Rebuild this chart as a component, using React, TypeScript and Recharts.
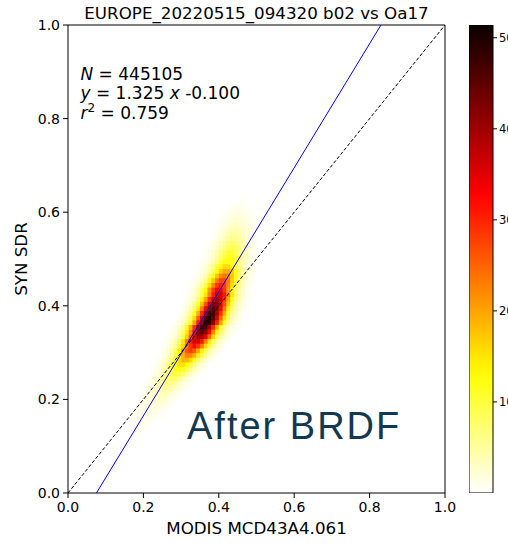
import React from "react";
import {
  ScatterChart,
  Scatter,
  XAxis,
  YAxis,
  ReferenceLine,
  Label,
  BarChart,
  Bar,
} from "recharts";

// ---- data ----
const TITLE = "EUROPE_20220515_094320 b02 vs Oa17";
const X_LABEL = "MODIS MCD43A4.061";
const Y_LABEL = "SYN SDR";
const NOTE = "After BRDF";

const AXIS_TICKS = [0, 0.2, 0.4, 0.6, 0.8, 1.0];
const CBAR_TICKS = [10, 20, 30, 40, 50];
const VMAX = 51.4;

const N_POINTS = 445105;
const FIT_SLOPE = 1.325;
const FIT_INTERCEPT = -0.1;
const R2 = 0.759;

const BIN = 0.01;

// 2D histogram rows: y = lower edge of the row, x = lower edge of first cell, v = counts
const HIST_ROWS: { y: number; x: number; v: number[] }[] = [
  { y: 0.13, x: 0.17, v: [0.4, 0.5, 0.5, 0.4] },
  { y: 0.14, x: 0.17, v: [0.5, 0.6, 0.7, 0.6, 0.5] },
  { y: 0.15, x: 0.17, v: [0.5, 0.7, 0.9, 0.9, 0.7, 0.5] },
  { y: 0.16, x: 0.17, v: [0.5, 0.7, 1.0, 1.2, 1.2, 1.0, 0.7, 0.5] },
  { y: 0.17, x: 0.17, v: [0.5, 0.8, 1.1, 1.4, 1.5, 1.4, 1.1, 0.8, 0.5] },
  { y: 0.18, x: 0.18, v: [0.6, 1.0, 1.4, 1.8, 2.0, 1.8, 1.4, 1.0, 0.6] },
  { y: 0.19, x: 0.19, v: [0.8, 1.3, 1.9, 2.4, 2.6, 2.4, 1.9, 1.3, 0.8] },
  { y: 0.2, x: 0.19, v: [0.7, 1.3, 2.0, 2.7, 3.1, 3.1, 2.7, 2.0, 1.3, 0.7] },
  { y: 0.21, x: 0.2, v: [0.9, 1.6, 2.4, 3.3, 3.9, 3.9, 3.3, 2.4, 1.6, 0.9] },
  { y: 0.22, x: 0.2, v: [0.6, 1.2, 2.0, 3.1, 4.2, 4.9, 4.9, 4.2, 3.1, 2.0, 1.2, 0.6] },
  { y: 0.23, x: 0.2, v: [0.6, 1.1, 1.9, 3.1, 4.5, 5.7, 6.2, 5.7, 4.5, 3.1, 1.9, 1.1, 0.6] },
  { y: 0.24, x: 0.21, v: [0.7, 1.4, 2.5, 4.0, 5.8, 7.4, 8.0, 7.4, 5.8, 4.0, 2.5, 1.4, 0.7] },
  { y: 0.25, x: 0.22, v: [0.9, 1.7, 3.1, 5.0, 7.2, 9.2, 10, 9.2, 7.2, 5.0, 3.1, 1.7, 0.9] },
  { y: 0.26, x: 0.22, v: [0.6, 1.1, 2.1, 3.9, 6.3, 9.0, 11.5, 12.5, 11.5, 9.0, 6.3, 3.9, 2.1, 1.1, 0.6] },
  { y: 0.27, x: 0.23, v: [1.0, 1.9, 3.6, 6.2, 9.5, 12.9, 15.2, 15.2, 12.9, 9.5, 6.2, 3.6, 1.9, 1.0] },
  { y: 0.28, x: 0.23, v: [0.6, 1.2, 2.3, 4.4, 7.6, 11.6, 15.8, 18.6, 18.6, 15.8, 11.6, 7.6, 4.4, 2.3, 1.2, 0.6] },
  { y: 0.29, x: 0.24, v: [0.7, 1.5, 2.8, 5.3, 9.2, 14, 19, 22.5, 22.5, 19, 14, 9.2, 5.3, 2.8, 1.5, 0.7] },
  { y: 0.3, x: 0.24, v: [0.6, 1.3, 2.5, 4.8, 8.7, 14, 20, 26, 28, 26, 20, 14, 8.7, 4.8, 2.5, 1.3, 0.6] },
  { y: 0.31, x: 0.25, v: [0.6, 1.4, 2.9, 5.4, 9.9, 16, 23, 29, 32, 29, 23, 16, 9.9, 5.4, 2.9, 1.4, 0.6] },
  { y: 0.32, x: 0.25, v: [0.5, 1.1, 2.4, 4.4, 8.5, 14.8, 22.6, 30.7, 36.3, 36.3, 30.7, 22.6, 14.8, 8.5, 4.4, 2.4, 1.1, 0.5] },
  { y: 0.33, x: 0.26, v: [0.5, 1.2, 2.7, 4.9, 9.4, 16.4, 25, 34, 40, 40, 34, 25, 16.4, 9.4, 4.9, 2.7, 1.2, 0.5] },
  { y: 0.34, x: 0.27, v: [0.9, 2.0, 4.1, 7.7, 14, 22.5, 32.4, 41.4, 45, 41.4, 32.4, 22.5, 14, 7.7, 4.1, 2.0, 0.9] },
  { y: 0.35, x: 0.27, v: [0.6, 1.4, 3.1, 5.8, 11, 19.2, 29.3, 39.8, 47, 47, 39.8, 29.3, 19.2, 11, 5.8, 3.1, 1.4, 0.6] },
  { y: 0.36, x: 0.28, v: [0.7, 1.5, 3.3, 6.0, 11.5, 20, 30.5, 41.5, 49, 49, 41.5, 30.5, 20, 11.5, 6.0, 3.3, 1.5, 0.7] },
  { y: 0.37, x: 0.29, v: [1.0, 2.3, 4.5, 8.5, 15.5, 25, 36, 46, 50, 46, 36, 25, 15.5, 8.5, 4.5, 2.3, 1.0] },
  { y: 0.38, x: 0.29, v: [0.6, 1.4, 3.1, 5.8, 11, 19.2, 29.3, 39.8, 47, 47, 39.8, 29.3, 19.2, 11, 5.8, 3.1, 1.4, 0.6] },
  { y: 0.39, x: 0.3, v: [0.9, 2.1, 4.1, 7.8, 14.3, 23, 33, 42, 46, 42, 33, 23, 14.3, 7.8, 4.1, 2.1, 0.9] },
  { y: 0.4, x: 0.3, v: [0.6, 1.3, 2.8, 5.2, 9.9, 17.2, 26.2, 35.7, 42, 42, 35.7, 26.2, 17.2, 9.9, 5.2, 2.8, 1.3, 0.6] },
  { y: 0.41, x: 0.31, v: [0.8, 1.8, 3.6, 6.8, 12.4, 20, 28.8, 36.8, 40, 36.8, 28.8, 20, 12.4, 6.8, 3.6, 1.8, 0.8] },
  { y: 0.42, x: 0.31, v: [0.5, 1.1, 2.4, 4.4, 8.5, 14.8, 22.6, 30.7, 36.3, 36.3, 30.7, 22.6, 14.8, 8.5, 4.4, 2.4, 1.1, 0.5] },
  { y: 0.43, x: 0.32, v: [1.0, 2.2, 4.1, 7.8, 13.6, 20.7, 28.2, 33.3, 33.3, 28.2, 20.7, 13.6, 7.8, 4.1, 2.2, 1.0] },
  { y: 0.44, x: 0.32, v: [0.6, 1.4, 2.8, 5.3, 9.6, 15.5, 22.3, 28.5, 31, 28.5, 22.3, 15.5, 9.6, 5.3, 2.8, 1.4, 0.6] },
  { y: 0.45, x: 0.33, v: [0.8, 1.8, 3.4, 6.4, 11.2, 17.1, 23.2, 27.4, 27.4, 23.2, 17.1, 11.2, 6.4, 3.4, 1.8, 0.8] },
  { y: 0.46, x: 0.34, v: [1.1, 2.2, 4.1, 7.4, 12, 17.3, 22.1, 24, 22.1, 17.3, 12, 7.4, 4.1, 2.2, 1.1] },
  { y: 0.47, x: 0.34, v: [0.6, 1.3, 2.4, 4.6, 8.0, 12.2, 16.6, 19.6, 19.6, 16.6, 12.2, 8.0, 4.6, 2.4, 1.3, 0.6] },
  { y: 0.48, x: 0.34, v: [0.5, 1.0, 1.9, 3.7, 6.4, 9.8, 13.3, 15.7, 15.7, 13.3, 9.8, 6.4, 3.7, 1.9, 1.0, 0.5] },
  { y: 0.49, x: 0.35, v: [0.6, 1.2, 2.2, 4.0, 6.5, 9.4, 12, 13, 12, 9.4, 6.5, 4.0, 2.2, 1.2, 0.6] },
  { y: 0.5, x: 0.36, v: [0.8, 1.4, 2.8, 4.8, 7.3, 10, 11.8, 11.8, 10, 7.3, 4.8, 2.8, 1.4, 0.8] },
  { y: 0.51, x: 0.36, v: [0.7, 1.3, 2.4, 4.2, 6.4, 8.7, 10.3, 10.3, 8.7, 6.4, 4.2, 2.4, 1.3, 0.7] },
  { y: 0.52, x: 0.37, v: [0.8, 1.5, 2.8, 4.5, 6.5, 8.3, 9.0, 8.3, 6.5, 4.5, 2.8, 1.5, 0.8] },
  { y: 0.53, x: 0.37, v: [0.7, 1.3, 2.3, 3.8, 5.4, 6.9, 7.5, 6.9, 5.4, 3.8, 2.3, 1.3, 0.7] },
  { y: 0.54, x: 0.38, v: [0.7, 1.4, 2.4, 3.7, 5.0, 5.9, 5.9, 5.0, 3.7, 2.4, 1.4, 0.7] },
  { y: 0.55, x: 0.38, v: [0.6, 1.1, 1.9, 2.9, 4.0, 4.7, 4.7, 4.0, 2.9, 1.9, 1.1, 0.6] },
  { y: 0.56, x: 0.39, v: [0.6, 1.2, 1.9, 2.7, 3.5, 3.8, 3.5, 2.7, 1.9, 1.2, 0.6] },
  { y: 0.57, x: 0.39, v: [0.5, 0.9, 1.5, 2.2, 2.8, 3.0, 2.8, 2.2, 1.5, 0.9, 0.5] },
  { y: 0.58, x: 0.4, v: [0.5, 0.9, 1.4, 1.9, 2.3, 2.3, 1.9, 1.4, 0.9, 0.5] },
  { y: 0.59, x: 0.41, v: [0.7, 1.0, 1.4, 1.7, 1.7, 1.4, 1.0, 0.7] },
  { y: 0.6, x: 0.42, v: [0.6, 0.9, 1.1, 1.2, 1.1, 0.9, 0.6] },
  { y: 0.61, x: 0.43, v: [0.6, 0.7, 0.8, 0.7, 0.6] },
  { y: 0.62, x: 0.45, v: [0.5, 0.5] },
];

// ---- layout ----
const CHART_W = 460;
const CHART_H = 549;
const MARGIN = { top: 25, right: 15, bottom: 0, left: 0 };
const Y_AXIS_W = 68;
const X_AXIS_H = 56;
const PLOT_W = CHART_W - MARGIN.left - MARGIN.right - Y_AXIS_W;
const PLOT_H = CHART_H - MARGIN.top - MARGIN.bottom - X_AXIS_H;
const CELL_W = PLOT_W * BIN;
const CELL_H = PLOT_H * BIN;

const FONT = "'DejaVu Sans', sans-serif";
const TICK = { fill: "#000", fontSize: 14, fontFamily: FONT };
const CBAR_TICK = { fill: "#000", fontSize: 11.5, fontFamily: FONT };

// matplotlib "hot_r"
function hotR(v: number) {
  const c = (n: number) => Math.max(0, Math.min(1, n));
  const t = 1 - c(v);
  const r = c(0.0416 + ((1 - 0.0416) * t) / 0.365079);
  const g = c((t - 0.365079) / (0.746032 - 0.365079));
  const b = c((t - 0.746032) / (1 - 0.746032));
  return `rgb(${Math.round(r * 255)},${Math.round(g * 255)},${Math.round(b * 255)})`;
}

const cells = HIST_ROWS.flatMap((row) =>
  row.v.map((v, i) => ({
    x: +(row.x + (i + 0.5) * BIN).toFixed(4),
    y: +(row.y + BIN / 2).toFixed(4),
    v,
  }))
);

const oneToOne = [
  { x: 0, y: 0 },
  { x: 1, y: 1 },
];
const fitLine = [
  { x: (0 - FIT_INTERCEPT) / FIT_SLOPE, y: 0 },
  { x: (1 - FIT_INTERCEPT) / FIT_SLOPE, y: 1 },
];

const cbarData = [{ name: "count", v: VMAX }];
const cbarStops = Array.from({ length: 26 }, (_, i) => i / 25);

function HeatCell(props: any) {
  const { cx, cy, payload } = props;
  if (cx == null || cy == null) return null;
  return (
    <rect
      x={cx - CELL_W / 2}
      y={cy - CELL_H / 2}
      width={CELL_W + 0.5}
      height={CELL_H + 0.5}
      fill={hotR(payload.v / VMAX)}
    />
  );
}

const NoDot = () => <g />;

export default function App() {
  return (
    <div
      style={{
        position: "relative",
        width: 508,
        height: 549,
        overflow: "hidden",
        background: "#fff",
      }}
    >
      <style>{"body{margin:0}"}</style>
      <div style={{ position: "absolute", left: 0, top: 0 }}>
        <ScatterChart width={CHART_W} height={CHART_H} margin={MARGIN}>
          <XAxis
            type="number"
            dataKey="x"
            domain={[0, 1]}
            ticks={AXIS_TICKS}
            tickFormatter={(v) => v.toFixed(1)}
            allowDataOverflow
            height={X_AXIS_H}
            tick={TICK}
            tickSize={5}
            tickMargin={4}
            axisLine={{ stroke: "#000" }}
            tickLine={{ stroke: "#000" }}
          >
            <Label
              value={X_LABEL}
              position="center"
              dy={7}
              style={{ fontSize: 16.7, fontFamily: FONT, fill: "#000" }}
            />
          </XAxis>
          <YAxis
            type="number"
            dataKey="y"
            domain={[0, 1]}
            ticks={AXIS_TICKS}
            tickFormatter={(v) => v.toFixed(1)}
            allowDataOverflow
            width={Y_AXIS_W}
            tick={TICK}
            tickSize={5}
            tickMargin={3}
            axisLine={{ stroke: "#000" }}
            tickLine={{ stroke: "#000" }}
          >
            <Label
              value={Y_LABEL}
              position="center"
              angle={-90}
              dx={-13}
              style={{ fontSize: 16.7, fontFamily: FONT, fill: "#000" }}
            />
          </YAxis>
          <Scatter data={cells} shape={HeatCell} isAnimationActive={false} />
          <Scatter
            data={oneToOne}
            line={{ stroke: "#000", strokeWidth: 1, strokeDasharray: "3.5 2" }}
            shape={NoDot}
            isAnimationActive={false}
          />
          <Scatter
            data={fitLine}
            line={{ stroke: "#0000ff", strokeWidth: 1 }}
            shape={NoDot}
            isAnimationActive={false}
          />
          <ReferenceLine y={1} stroke="#000" />
          <ReferenceLine x={1} stroke="#000" />
        </ScatterChart>
      </div>

      <div style={{ position: "absolute", left: 469, top: 0 }}>
        <BarChart
          width={70}
          height={CHART_H}
          data={cbarData}
          margin={{ top: 25, right: 0, bottom: 56, left: 0 }}
          barCategoryGap={0}
        >
          <defs>
            <linearGradient id="hotr" x1="0" y1="1" x2="0" y2="0">
              {cbarStops.map((s) => (
                <stop key={s} offset={s} stopColor={hotR(s)} />
              ))}
            </linearGradient>
          </defs>
          <XAxis dataKey="name" hide />
          <YAxis
            orientation="right"
            width={46}
            domain={[0, VMAX]}
            ticks={CBAR_TICKS}
            allowDataOverflow
            axisLine={false}
            tickSize={4}
            tickMargin={2}
            tick={CBAR_TICK}
            tickLine={{ stroke: "#000" }}
          />
          <Bar
            dataKey="v"
            fill="url(#hotr)"
            stroke="#000"
            strokeWidth={1}
            isAnimationActive={false}
          />
        </BarChart>
      </div>

      <svg
        width={508}
        height={549}
        style={{ position: "absolute", left: 0, top: 0, pointerEvents: "none" }}
      >
        <text x={256.5} y={18.5} textAnchor="middle" fontSize={16.7} fontFamily={FONT}>
          {TITLE}
        </text>
        <g fontSize={17} fontFamily={FONT} style={{ whiteSpace: "pre" }}>
          <text x={80.5} y={79.5}>
            <tspan fontStyle="italic">N</tspan>
            {` = ${N_POINTS}`}
          </text>
          <text x={80.5} y={99}>
            <tspan fontStyle="italic">y</tspan>
            {`  = ${FIT_SLOPE.toFixed(3)} `}
            <tspan fontStyle="italic">x</tspan>
            {` ${FIT_INTERCEPT.toFixed(3)}`}
          </text>
          <text x={80.5} y={118.5}>
            <tspan fontStyle="italic">r</tspan>
            <tspan dy={-7} fontSize={12}>2</tspan>
            <tspan dy={7}>{` = ${R2.toFixed(3)}`}</tspan>
          </text>
        </g>
        <text
          x={187}
          y={439}
          fontSize={38}
          fontFamily="'Liberation Sans', Arial, sans-serif"
          letterSpacing={2}
          fill="#12394f"
        >
          {NOTE}
        </text>
      </svg>
    </div>
  );
}
